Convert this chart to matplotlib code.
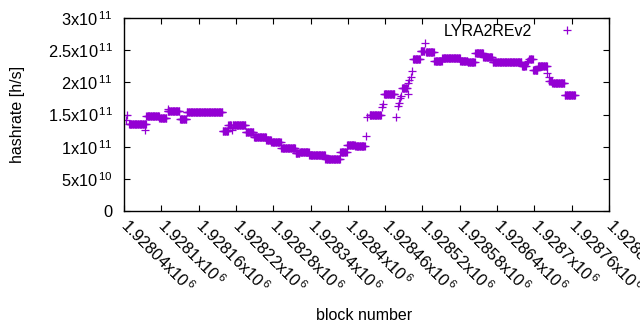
import numpy as np
import matplotlib
matplotlib.use("Agg")
import matplotlib.pyplot as plt

plt.rcParams['font.family'] = ['Liberation Sans', 'DejaVu Sans']
plt.rcParams['mathtext.fontset'] = 'custom'
plt.rcParams['mathtext.rm'] = 'Liberation Sans'
plt.rcParams['mathtext.it'] = 'Liberation Sans:italic'
plt.rcParams['mathtext.bf'] = 'Liberation Sans:bold'

# plateau segments (block ranges) and their hashrate values [h/s]
seg_start = [1928048, 1928076, 1928097, 1928110, 1928130, 1928141, 1928199, 1928208,
             1928215, 1928236, 1928249, 1928269, 1928277, 1928293, 1928316, 1928323,
             1928338, 1928364, 1928388, 1928399, 1928412, 1928435, 1928458, 1928487,
             1928505, 1928517, 1928526, 1928539, 1928552, 1928581, 1928593, 1928605,
             1928618, 1928633, 1928680, 1928692, 1928698, 1928706, 1928724, 1928729,
             1928749]
seg_end = [1928075, 1928096, 1928108, 1928129, 1928140, 1928198, 1928207, 1928212,
           1928235, 1928248, 1928268, 1928276, 1928292, 1928315, 1928322, 1928337,
           1928363, 1928387, 1928398, 1928411, 1928427, 1928453, 1928475, 1928495,
           1928516, 1928523, 1928538, 1928551, 1928580, 1928592, 1928604, 1928617,
           1928632, 1928679, 1928686, 1928697, 1928705, 1928720, 1928728, 1928748,
           1928765]
seg_value = [1.36e11, 1.47e11, 1.44e11, 1.55e11, 1.425e11, 1.534e11, 1.25e11, 1.33e11,
             1.332e11, 1.223e11, 1.145e11, 1.10e11, 1.067e11, 0.974e11, 0.897e11, 0.92e11,
             0.865e11, 0.81e11, 0.92e11, 1.03e11, 1.01e11, 1.50e11, 1.815e11, 1.907e11,
             2.37e11, 2.48e11, 2.466e11, 2.326e11, 2.375e11, 2.326e11, 2.31e11, 2.45e11,
             2.40e11, 2.31e11, 2.25e11, 2.36e11, 2.19e11, 2.26e11, 2.025e11, 1.985e11,
             1.80e11]

# isolated single-block points
iso_block = [1928043, 1928045, 1928074, 1928110, 1928214, 1928429, 1928431, 1928455,
             1928456, 1928477, 1928480, 1928482, 1928484, 1928485, 1928496, 1928497,
             1928499, 1928501, 1928503, 1928524, 1928688, 1928690, 1928721, 1928723]
iso_value = [1.41e11, 1.49e11, 1.254e11, 1.585e11, 1.26e11, 1.16e11, 1.46e11, 1.61e11,
             1.66e11, 1.465e11, 1.635e11, 1.68e11, 1.75e11, 1.79e11, 1.82e11, 1.985e11,
             2.04e11, 2.08e11, 2.18e11, 2.606e11, 2.31e11, 2.335e11, 2.14e11, 2.09e11]

x_ticks = [1928040, 1928100, 1928160, 1928220, 1928280, 1928340, 1928400,
           1928460, 1928520, 1928580, 1928640, 1928700, 1928760, 1928820]
x_ticklabels = ['1.92804x10$^{\\,6}$', '1.9281x10$^{\\,6}$', '1.92816x10$^{\\,6}$',
                '1.92822x10$^{\\,6}$', '1.92828x10$^{\\,6}$', '1.92834x10$^{\\,6}$',
                '1.9284x10$^{\\,6}$', '1.92846x10$^{\\,6}$', '1.92852x10$^{\\,6}$',
                '1.92858x10$^{\\,6}$', '1.92864x10$^{\\,6}$', '1.9287x10$^{\\,6}$',
                '1.92876x10$^{\\,6}$', '1.92882x10$^{\\,6}$']
y_ticks = [0, 0.5e11, 1e11, 1.5e11, 2e11, 2.5e11, 3e11]
y_ticklabels = ['0', '5x10$^{\\,10}$', '1x10$^{\\,11}$', '1.5x10$^{\\,11}$', '2x10$^{\\,11}$',
                '2.5x10$^{\\,11}$', '3x10$^{\\,11}$']

blocks = []
rates = []
for s, e, v in zip(seg_start, seg_end, seg_value):
    b = np.arange(s, e + 1)
    blocks.extend(b.tolist())
    rates.extend([v] * len(b))
blocks.extend(iso_block)
rates.extend(iso_value)

fig = plt.figure(figsize=(6.4, 3.3), dpi=100)
ax = fig.add_axes([124 / 640, 1 - 211 / 330, (609 - 124) / 640, (211 - 18) / 330])

color = '#9400D3'
ax.plot(blocks, rates, linestyle='none', marker='+', markersize=5.2,
        markeredgewidth=0.9, color=color, label='LYRA2REv2')

ax.set_xlim(x_ticks[0], x_ticks[-1])
ax.set_ylim(0, 3e11)
ax.set_xticks(x_ticks)
ax.set_xticklabels(x_ticklabels, rotation=-45, ha='left', va='center',
                   rotation_mode='anchor', fontsize=11.8)
ax.set_yticks(y_ticks)
ax.set_yticklabels(y_ticklabels, fontsize=11.8)

ax.tick_params(direction='in', length=4, width=0.8, top=True, right=True,
               labeltop=False, labelright=False, color='black')
ax.tick_params(axis='x', pad=8)
ax.tick_params(axis='y', pad=8)
for sp in ax.spines.values():
    sp.set_linewidth(1.0)
    sp.set_color('black')

ax.set_xlabel('block number', fontsize=11.5)
ax.xaxis.set_label_coords(0.495, -0.50)
ax.set_ylabel('hashrate [h/s]', fontsize=11.5, va='center')
ax.yaxis.set_label_coords(-0.2186, 0.5)

leg = ax.legend(loc='upper right', frameon=False, markerfirst=False, fontsize=11.5,
                handlelength=2.0, handletextpad=1.2, borderaxespad=0.2,
                bbox_to_anchor=(0.966, 1.02))

fig.savefig('out.png', dpi=100)
